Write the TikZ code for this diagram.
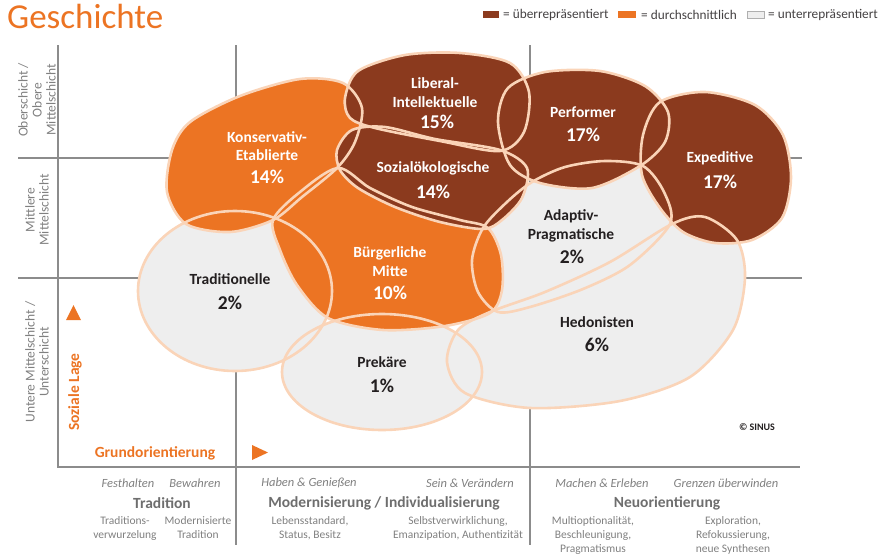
\documentclass[tikz,border=0pt]{standalone}
\usepackage{fontspec}
\setmainfont{Carlito}
\definecolor{brn}{HTML}{8B3A1E}
\definecolor{org}{HTML}{EC7423}
\definecolor{lgr}{HTML}{EEEEEE}
\definecolor{peach}{HTML}{FAD4B8}
\definecolor{axg}{HTML}{8C8C8C}
\definecolor{txg}{HTML}{808080}
\definecolor{hdg}{HTML}{6E6E6E}
\definecolor{dk}{HTML}{231F20}
\begin{document}
\begin{tikzpicture}[x=1pt,y=-1pt,
  axl/.style={draw=axg, line width=1.4pt},
  bl/.style={draw=peach, line width=2.6pt},
  lw/.style={text=white, font=\bfseries\fontsize{15.5}{18.5}\selectfont, align=center, inner sep=0pt},
  pw/.style={text=white, font=\bfseries\fontsize{19.5}{22}\selectfont, inner sep=0pt},
  ld/.style={lw, text=dk},
  pd/.style={pw, text=dk},
  axlab/.style={text=txg, font=\fontsize{13.5}{14}\selectfont, align=center, rotate=90, inner sep=0pt},
  itl/.style={text=txg, font=\itshape\fontsize{12.5}{14}\selectfont, inner sep=0pt},
  hdl/.style={text=hdg, font=\bfseries\fontsize{15.5}{17}\selectfont, inner sep=0pt},
  sml/.style={text=txg, font=\fontsize{11.5}{14}\selectfont, align=center, inner sep=0pt},
  legt/.style={text=dk!85, font=\fontsize{13.3}{14}\selectfont, anchor=west, inner sep=0pt},
  orl/.style={text=org, font=\bfseries\fontsize{15.5}{17}\selectfont, inner sep=0pt},
  shtrad/.style={insert path={(235,291) ellipse [x radius=97, y radius=80]}},
  shprek/.style={insert path={(382,372) ellipse [x radius=100, y radius=58]}},
  shhedo/.style={insert path={plot[smooth cycle] coordinates {(490,312) (458,330) (447,362) (465,393) (530,408) (620,401) (690,377) (733,330) (745,278) (737,240) (705,217) (672,224) (610,262) (545,292)}}},
  shadap/.style={insert path={plot[smooth cycle] coordinates {(483,228) (507,202) (532,182) (565,167) (605,161) (643,166) (664,192) (670,224) (630,265) (583,289) (530,307) (498,312) (478,292) (472,260)}}},
  shkons/.style={insert path={plot[smooth cycle] coordinates {(167,192) (172,150) (190,122) (240,96) (300,79) (343,83) (362,108) (355,142) (337,168) (302,197) (273,220) (230,232) (186,224)}}},
  shburg/.style={insert path={plot[smooth cycle] coordinates {(273,220) (300,192) (338,168) (370,188) (412,207) (460,220) (488,228) (501,255) (502,290) (490,313) (445,326) (383,330) (328,318) (297,285) (280,250)}}},
  shlib/.style={insert path={plot[smooth cycle] coordinates {(345,98) (358,71) (405,55) (460,53) (510,63) (529,92) (524,132) (500,151) (440,141) (375,128) (350,118)}}},
  shsoz/.style={insert path={plot[smooth cycle] coordinates {(337,150) (352,130) (385,127) (435,139) (500,150) (527,168) (522,198) (502,220) (483,229) (440,222) (395,207) (358,188) (340,170)}}},
  shperf/.style={insert path={plot[smooth cycle] coordinates {(498,122) (508,88) (545,72) (600,71) (645,86) (668,112) (665,142) (640,166) (592,188) (540,183) (510,165)}}},
  shexpe/.style={insert path={plot[smooth cycle] coordinates {(660,102) (705,92) (755,105) (783,135) (791,178) (782,218) (752,240) (715,243) (683,232) (660,208) (642,175) (643,135)}}}
]
\useasboundingbox (0,0) rectangle (887,560);
% title
\node[anchor=base west, inner sep=0pt, text=org, font=\fontsize{35}{35}\selectfont] (title) at (7,28) {Geschichte};
% legend
\node[fill=brn, minimum width=16pt, minimum height=7pt, inner sep=0pt] (lb) at (491,14.5) {};
\node[legt] (lbt) at (503,14.5) {= überrepräsentiert};
\node[fill=org, minimum width=18pt, minimum height=7pt, inner sep=0pt] (lo) at (627,14.5) {};
\node[legt] (lot) at (641,14.5) {= durchschnittlich};
\node[fill=lgr, draw=axg!70, line width=0.6pt, minimum width=17pt, minimum height=7pt, inner sep=0pt] (lg) at (756,14.5) {};
\node[legt] (lgt) at (768,14.5) {= unterrepräsentiert};
% grid
\draw[axl] (18,158) -- (802,158);
\draw[axl] (18,278) -- (802,278);
\draw[axl] (236,45) -- (236,545);
\draw[axl] (530,45) -- (530,545);
\draw[axl] (58,45) -- (58,467) -- (800,467);
% fills
\fill[lgr][shtrad];
\fill[lgr][shprek];
\fill[lgr][shhedo];
\fill[lgr][shadap];
\fill[org][shkons];
\fill[org][shburg];
\fill[brn][shlib];
\fill[brn][shsoz];
\fill[brn][shperf];
\fill[brn][shexpe];
% outlines
\draw[bl][shtrad];
\draw[bl][shprek];
\draw[bl][shhedo];
\draw[bl][shadap];
\draw[bl][shkons];
\draw[bl][shburg];
\draw[bl][shlib];
\draw[bl][shsoz];
\draw[bl][shperf];
\draw[bl][shexpe];
% blob labels
\node[lw] (konsl) at (267,146) {Konservativ-\\Etablierte};
\node[pw] (konsp) at (267,177) {14\%};
\node[lw] (libl) at (435,92.5) {Liberal-\\Intellektuelle};
\node[pw] (libp) at (437,122) {15\%};
\node[lw] (sozl) at (433,168) {Sozialökologische};
\node[pw] (sozp) at (433,192) {14\%};
\node[lw] (perfl) at (583,112) {Performer};
\node[pw] (perfp) at (583,135) {17\%};
\node[lw] (expel) at (720,158) {Expeditive};
\node[pw] (expep) at (720,182) {17\%};
\node[ld] (adapl) at (571,226) {Adaptiv-\\Pragmatische};
\node[pd] (adapp) at (572,257) {2\%};
\node[lw] (burgl) at (390,261.5) {Bürgerliche\\Mitte};
\node[pw] (burgp) at (390,293) {10\%};
\node[ld] (tradl) at (230,279) {Traditionelle};
\node[pd] (tradp) at (230,303) {2\%};
\node[ld] (prekl) at (382,362) {Prekäre};
\node[pd] (prekp) at (382,386) {1\%};
\node[ld] (hedol) at (597,322) {Hedonisten};
\node[pd] (hedop) at (597,345) {6\%};
\node[inner sep=0pt, text=dk, font=\bfseries\fontsize{10}{11}\selectfont] (sinus) at (757,427) {© SINUS};
% axis labels
\node[axlab] (ax1) at (37,100) {Oberschicht /\\Obere\\Mittelschicht};
\node[axlab] (ax2) at (37,210) {Mittlere\\Mittelschicht};
\node[axlab] (ax3) at (37,362) {Untere Mittelschicht /\\Unterschicht};
\node[orl, rotate=90] (soz) at (75,392) {Soziale Lage};
\node[orl] (grund) at (155,453) {Grundorientierung};
\fill[org] (66,320) -- (81,320) -- (73.5,305) -- cycle;
\fill[org] (252,445) -- (268,452.5) -- (252,460) -- cycle;
% bottom labels
\node[itl] (fest) at (128,483) {Festhalten};
\node[itl] (bew) at (195,483) {Bewahren};
\node[hdl] (tradh) at (162,503) {Tradition};
\node[sml] (tv) at (125,528) {Traditions-\\verwurzelung};
\node[sml] (mt) at (198,528) {Modernisierte\\Tradition};
\node[itl] (hab) at (309,483) {Haben \& Genießen};
\node[itl] (sein) at (470,483) {Sein \& Verändern};
\node[hdl] (modh) at (384,503) {Modernisierung / Individualisierung};
\node[sml] (leb) at (310,528) {Lebensstandard,\\Status, Besitz};
\node[sml] (selbst) at (458,528) {Selbstverwirklichung,\\Emanzipation, Authentizität};
\node[itl] (mach) at (602,483) {Machen \& Erleben};
\node[itl] (grenz) at (726,483) {Grenzen überwinden};
\node[hdl] (neuh) at (667,503) {Neuorientierung};
\node[sml] (multi) at (593,535) {Multioptionalität,\\Beschleunigung,\\Pragmatismus};
\node[sml] (expl) at (733,535) {Exploration,\\Refokussierung,\\neue Synthesen};
\end{tikzpicture}
\end{document}
